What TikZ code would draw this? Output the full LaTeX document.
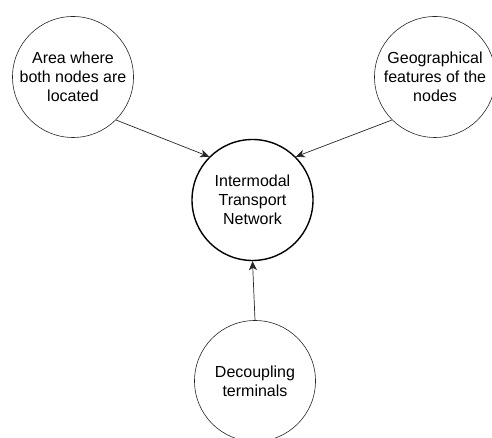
\documentclass[tikz,border=0pt]{standalone}
\usepackage{fontspec}
\setmainfont{Liberation Sans}
\usetikzlibrary{arrows.meta}

\tikzset{
    factor/.style={circle, draw=black!85, line width=0.6pt, minimum size=121pt, inner sep=0pt, align=center, font=\fontsize{16}{19}\selectfont},
    network/.style={factor, draw=black, line width=1.4pt},
    link/.style={-{Stealth[length=9pt, width=8pt, inset=2.5pt]}, line width=0.7pt, draw=black!85}
}

\begin{document}
\begin{tikzpicture}[x=1pt, y=1pt]

        \useasboundingbox (0, 0) rectangle (492, 438);

        \node[network] (itn) at (252.5, 238) {Intermodal\\Transport\\Network};

        \node[factor] (area) at (73, 361) {Area where\\both nodes are\\located};
        \node[factor] (geo) at (435, 361) {Geographical\\features of the\\nodes};
        \node[factor] (decoup) at (255, 57) {Decoupling\\terminals};

        \draw[link] (area.south east) -- (itn.north west);
        \draw[link] (geo.south west) -- (itn.north east);
        \draw[link] (decoup.north) -- (itn.south);

    \end{tikzpicture}
\end{document}
